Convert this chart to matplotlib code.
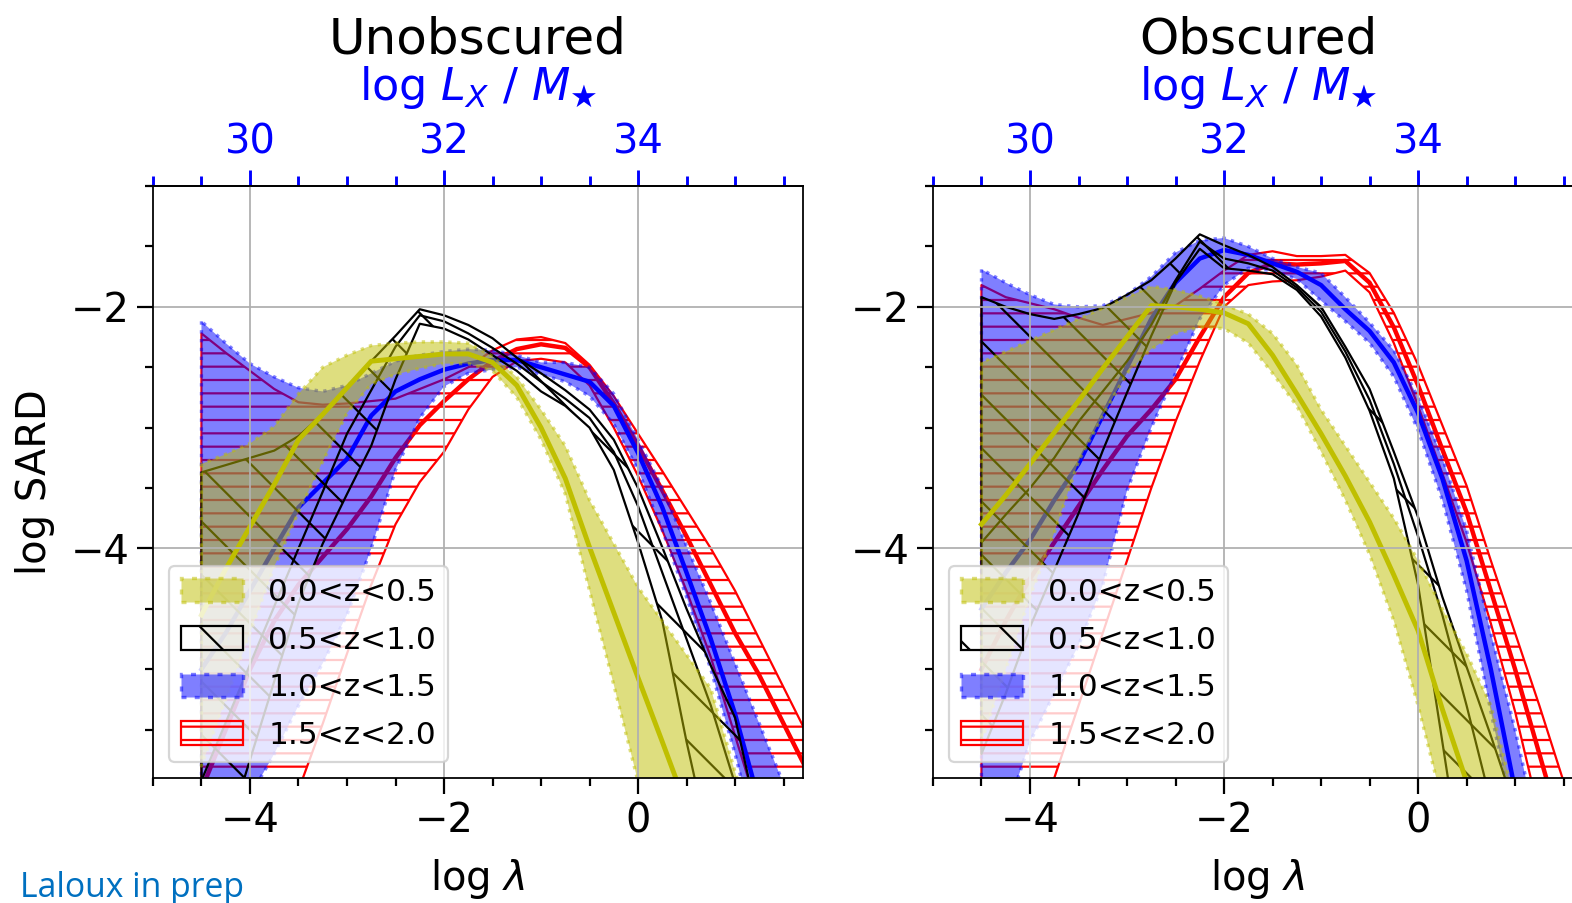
import matplotlib
matplotlib.use('Agg')
import matplotlib.pyplot as plt
from matplotlib.ticker import MultipleLocator, FixedLocator

plt.rcParams['font.family'] = 'DejaVu Sans'
plt.rcParams['font.size'] = 18

# log lambda grid
log_lam = [-4.5, -4.25, -4.0, -3.75, -3.5, -3.25, -3.0, -2.75, -2.5, -2.25, -2.0, -1.75, -1.5,
           -1.25, -1.0, -0.75, -0.5, -0.25, 0.0, 0.25, 0.5, 0.75, 1.0, 1.25, 1.5, 1.75]

z_labels = ['0.0<z<0.5', '0.5<z<1.0', '1.0<z<1.5', '1.5<z<2.0']
top_ticks = [30, 32, 34]

# ---- Unobscured ----
u1_lo = [-5.80, -5.25, -4.70, -4.15, -3.70, -3.28, -2.88, -2.64, -2.56, -2.51, -2.47, -2.47, -2.53,
         -2.75, -3.10, -3.55, -4.35, -5.13, -5.93, -6.70, -7.40, -8.0, -8.0, -8.0, -8.0, -8.0]
u1_med = [-4.55, -4.17, -3.82, -3.47, -3.10, -2.89, -2.67, -2.45, -2.43, -2.41, -2.39, -2.39, -2.46,
          -2.65, -3.00, -3.42, -3.99, -4.53, -5.07, -5.60, -6.14, -6.70, -7.20, -7.70, -8.0, -8.0]
u1_hi = [-3.30, -3.22, -3.13, -2.99, -2.72, -2.50, -2.40, -2.32, -2.30, -2.29, -2.29, -2.30, -2.41,
         -2.58, -2.85, -3.15, -3.60, -3.96, -4.32, -4.60, -4.88, -5.16, -5.85, -6.50, -7.20, -8.0]

u2_lo = [-7.00, -6.40, -5.75, -5.10, -4.45, -3.96, -3.55, -3.15, -2.60, -2.14, -2.18, -2.27, -2.40,
         -2.53, -2.70, -2.82, -3.00, -3.35, -3.95, -4.60, -5.60, -6.50, -7.20, -8.0, -8.0, -8.0]
u2_med = [-5.92, -5.44, -4.96, -4.48, -4.00, -3.53, -3.05, -2.69, -2.33, -2.07, -2.12, -2.22, -2.34,
          -2.47, -2.62, -2.76, -2.92, -3.20, -3.65, -4.20, -4.75, -5.30, -5.95, -6.60, -7.30, -8.0]
u2_hi = [-3.37, -3.31, -3.25, -3.19, -3.07, -2.89, -2.67, -2.45, -2.24, -2.02, -2.07, -2.15, -2.26,
         -2.42, -2.55, -2.69, -2.85, -3.10, -3.50, -3.99, -4.50, -4.97, -5.40, -6.30, -7.00, -8.0]

u3_lo = [-6.60, -6.30, -6.05, -5.70, -5.30, -4.95, -4.55, -4.00, -3.35, -2.92, -2.66, -2.55, -2.52,
         -2.50, -2.56, -2.62, -2.74, -2.97, -3.35, -3.85, -4.40, -5.00, -5.70, -6.50, -7.20, -8.0]
u3_med = [-5.00, -4.70, -4.35, -4.00, -3.66, -3.46, -3.26, -2.90, -2.70, -2.60, -2.52, -2.47, -2.44,
          -2.44, -2.50, -2.56, -2.62, -2.82, -3.21, -3.66, -4.20, -4.75, -5.37, -6.10, -6.80, -7.50]
u3_hi = [-2.12, -2.30, -2.47, -2.58, -2.67, -2.70, -2.65, -2.55, -2.45, -2.40, -2.37, -2.35, -2.36,
         -2.40, -2.46, -2.46, -2.50, -2.72, -3.10, -3.50, -3.98, -4.45, -4.95, -5.45, -5.95, -6.50]

u4_lo = [-7.50, -7.00, -6.50, -6.30, -6.00, -5.45, -4.87, -4.30, -3.80, -3.45, -3.20, -2.85, -2.58,
         -2.45, -2.43, -2.46, -2.65, -3.00, -3.40, -3.85, -4.35, -4.90, -5.55, -6.20, -6.90, -7.50]
u4_med = [-6.00, -5.50, -5.00, -4.60, -4.30, -4.07, -3.84, -3.57, -3.25, -2.98, -2.78, -2.60, -2.45,
          -2.35, -2.31, -2.34, -2.50, -2.80, -3.15, -3.52, -3.90, -4.30, -4.70, -5.05, -5.45, -5.85]
u4_hi = [-2.22, -2.38, -2.53, -2.68, -2.79, -2.81, -2.80, -2.78, -2.76, -2.68, -2.60, -2.50, -2.36,
         -2.27, -2.25, -2.30, -2.48, -2.74, -3.05, -3.36, -3.68, -4.00, -4.35, -4.75, -5.15, -5.55]

# ---- Obscured ----
o1_lo = [-5.60, -5.00, -4.40, -3.87, -3.28, -2.90, -2.55, -2.35, -2.22, -2.17, -2.18, -2.30, -2.55,
         -2.82, -3.20, -3.60, -4.05, -4.60, -5.30, -6.10, -6.90, -7.50, -8.0, -8.0, -8.0, -8.0]
o1_med = [-3.80, -3.56, -3.30, -3.04, -2.78, -2.51, -2.25, -1.99, -2.00, -2.02, -2.05, -2.14, -2.40,
          -2.72, -3.05, -3.40, -3.78, -4.22, -4.68, -5.33, -5.93, -6.60, -7.20, -7.80, -8.0, -8.0]
o1_hi = [-2.46, -2.37, -2.28, -2.19, -2.10, -2.01, -1.92, -1.83, -1.86, -1.91, -1.98, -2.06, -2.22,
         -2.48, -2.85, -3.15, -3.45, -3.75, -4.10, -4.50, -4.87, -5.30, -6.10, -6.80, -7.50, -8.0]

o2_lo = [-5.70, -5.20, -4.65, -4.18, -3.71, -3.19, -2.71, -2.24, -1.80, -1.52, -1.68, -1.70, -1.73,
         -1.86, -2.08, -2.42, -2.86, -3.42, -4.30, -5.60, -6.90, -8.0, -8.0, -8.0, -8.0, -8.0]
o2_med = [-3.95, -3.72, -3.50, -3.25, -2.95, -2.70, -2.45, -2.15, -1.78, -1.46, -1.60, -1.64, -1.70,
          -1.84, -2.04, -2.37, -2.77, -3.30, -3.90, -4.55, -5.30, -6.10, -7.00, -8.0, -8.0, -8.0]
o2_hi = [-1.92, -2.00, -2.06, -2.10, -2.06, -2.01, -1.90, -1.78, -1.60, -1.40, -1.49, -1.57, -1.67,
         -1.82, -2.00, -2.33, -2.68, -3.20, -3.74, -4.40, -4.98, -5.55, -6.15, -7.00, -8.0, -8.0]

o3_lo = [-6.50, -6.20, -5.60, -5.20, -4.80, -4.30, -3.52, -3.00, -2.55, -2.10, -1.82, -1.68, -1.70,
         -1.77, -1.95, -2.12, -2.30, -2.58, -3.02, -3.60, -4.35, -5.35, -6.30, -7.20, -8.0, -8.0]
o3_med = [-4.50, -4.20, -3.93, -3.60, -3.30, -2.90, -2.50, -2.10, -1.80, -1.60, -1.53, -1.57, -1.64,
          -1.71, -1.82, -2.02, -2.20, -2.46, -2.88, -3.42, -4.10, -5.00, -6.00, -7.00, -8.0, -8.0]
o3_hi = [-1.69, -1.80, -1.90, -1.98, -2.00, -1.99, -1.90, -1.75, -1.55, -1.45, -1.43, -1.50, -1.60,
         -1.67, -1.72, -1.92, -2.13, -2.36, -2.75, -3.25, -3.85, -4.70, -5.50, -6.40, -7.20, -8.0]

o4_lo = [-7.50, -7.00, -6.40, -5.90, -5.30, -4.70, -4.10, -3.50, -2.95, -2.45, -2.00, -1.82, -1.79,
         -1.78, -1.75, -1.70, -1.88, -2.30, -2.82, -3.38, -3.95, -4.62, -5.35, -6.20, -7.00, -8.0]
o4_med = [-5.00, -4.60, -4.25, -3.95, -3.65, -3.35, -3.07, -2.85, -2.60, -2.25, -1.92, -1.72, -1.64,
          -1.65, -1.64, -1.62, -1.80, -2.17, -2.65, -3.18, -3.70, -4.35, -5.00, -5.70, -6.40, -7.00]
o4_hi = [-1.82, -1.92, -1.97, -2.02, -2.09, -2.15, -2.10, -2.05, -1.99, -1.85, -1.70, -1.57, -1.54,
         -1.58, -1.58, -1.57, -1.72, -2.05, -2.48, -2.98, -3.48, -4.10, -4.70, -5.30, -5.93, -6.60]


def draw_panel(ax, bands, title):
    x = log_lam
    (lo1, md1, hi1), (lo2, md2, hi2), (lo3, md3, hi3), (lo4, md4, hi4) = bands

    # highest redshift first, lowest ends up on top
    f4 = ax.fill_between(x, lo4, hi4, facecolor='none', edgecolor='r', hatch='--', lw=1, zorder=1.0)
    ax.plot(x, md4, color='r', lw=2, zorder=1.05)
    f3 = ax.fill_between(x, lo3, hi3, color='b', alpha=0.5, ls=':', lw=1.5, zorder=1.1)
    ax.plot(x, md3, color='b', lw=2, zorder=1.15)
    f2 = ax.fill_between(x, lo2, hi2, facecolor='none', edgecolor='k', hatch='\\', lw=1, zorder=1.2)
    ax.plot(x, md2, color='k', lw=1, zorder=1.25)
    f1 = ax.fill_between(x, lo1, hi1, color='y', alpha=0.5, ls=':', lw=1.5, zorder=1.3)
    ax.plot(x, md1, color='y', lw=2.2, zorder=1.35)

    ax.set_xlim(-5, 1.7)
    ax.set_ylim(-5.9, -1.0)
    ax.xaxis.set_major_locator(MultipleLocator(2))
    ax.xaxis.set_minor_locator(MultipleLocator(0.5))
    ax.yaxis.set_major_locator(MultipleLocator(2))
    ax.yaxis.set_minor_locator(MultipleLocator(0.5))
    ax.tick_params(which='major', length=7, width=1)
    ax.tick_params(which='minor', length=3.6, width=1)
    ax.grid(True)
    ax.set_xlabel(r'log $\lambda$', labelpad=7)

    sec = ax.secondary_xaxis('top', functions=(lambda v: v + 34, lambda v: v - 34))
    sec.xaxis.set_major_locator(FixedLocator(top_ticks))
    sec.xaxis.set_minor_locator(MultipleLocator(0.5))
    sec.tick_params(which='both', colors='b')
    sec.tick_params(which='major', length=7, width=1.3)
    sec.tick_params(which='minor', length=4.5, width=1.3)
    sec.set_xlabel(r'log $L_X$ / $M_\bigstar$', color='b', fontsize=20, labelpad=10)

    ax.set_title(title, fontsize=22.5, pad=5)
    ax.legend([f1, f2, f3, f4], z_labels, loc='lower left', fontsize=14,
              labelspacing=0.6, handleheight=0.8)


fig = plt.figure(figsize=(1572 / 160, 903 / 160))
ax1 = fig.add_axes([0.0973, 0.1384, 0.4135, 0.6556])
ax2 = fig.add_axes([0.5935, 0.1384, 0.4135, 0.6556])

draw_panel(ax1, [(u1_lo, u1_med, u1_hi), (u2_lo, u2_med, u2_hi),
                 (u3_lo, u3_med, u3_hi), (u4_lo, u4_med, u4_hi)], 'Unobscured')
draw_panel(ax2, [(o1_lo, o1_med, o1_hi), (o2_lo, o2_med, o2_hi),
                 (o3_lo, o3_med, o3_hi), (o4_lo, o4_med, o4_hi)], 'Obscured')
ax1.set_ylabel('log SARD', labelpad=7)

fig.text(20 / 1572, 1 - 897 / 903, 'Laloux in prep', color='#0070C0', fontsize=15.2,
         family='Open Sans', va='baseline')

fig.savefig('out.png', dpi=160)
